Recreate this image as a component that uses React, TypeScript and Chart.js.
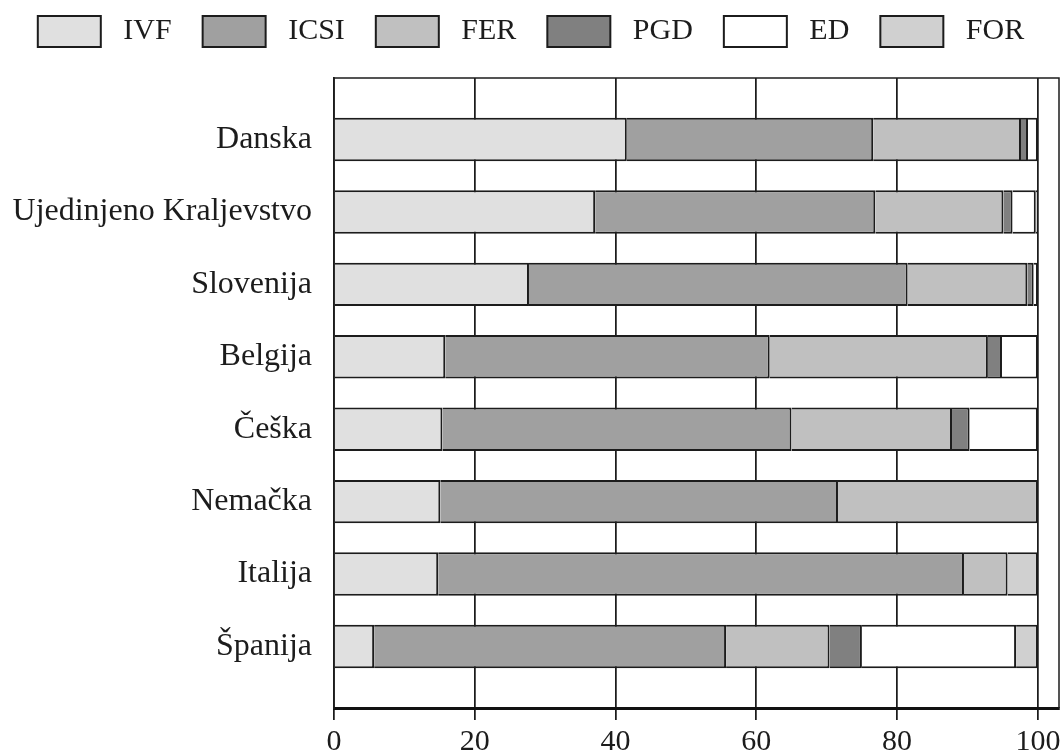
import React, { useEffect, useRef } from 'react';
import { Chart, registerables } from 'chart.js';

Chart.register(...registerables);

const categories = ['Danska', 'Ujedinjeno Kraljevstvo', 'Slovenija', 'Belgija', 'Češka', 'Nemačka', 'Italija', 'Španija'];
const ivf = [41.6, 37.1, 27.7, 15.8, 15.4, 15.1, 14.8, 5.7];
const icsi = [35.0, 39.8, 53.8, 46.1, 49.6, 56.5, 74.7, 50.0];
const fer = [21.0, 18.2, 17.0, 31.0, 22.8, 28.4, 6.2, 14.7];
const pgd = [1.0, 1.3, 0.9, 2.0, 2.5, 0, 0, 4.6];
const ed = [1.4, 3.3, 0.6, 5.1, 9.7, 0, 0, 21.9];
const forVals = [0, 0.3, 0, 0, 0, 0, 4.3, 3.1];

const seriesNames = ['IVF', 'ICSI', 'FER', 'PGD', 'ED', 'FOR'];
const seriesValues = [ivf, icsi, fer, pgd, ed, forVals];
const seriesColors = ['#e0e0e0', '#a0a0a0', '#c0c0c0', '#808080', '#ffffff', '#d0d0d0'];
const xTicks = [0, 20, 40, 60, 80, 100];

const FONT = 'Liberation Serif';
const INK = '#1c1c1c';

export default function App() {
  const ref = useRef<HTMLCanvasElement>(null);

  useEffect(() => {
    document.body.style.margin = '0';
    const frame = {
      id: 'frame',
      afterDatasetsDraw(chart: any) {
        const { ctx, chartArea: a } = chart;
        ctx.save();
        ctx.strokeStyle = INK;
        ctx.lineWidth = 1.5;
        ctx.beginPath();
        ctx.moveTo(a.left, a.top);
        ctx.lineTo(a.right, a.top);
        ctx.lineTo(a.right, a.bottom);
        ctx.stroke();
        ctx.restore();
      },
    };

    const chart = new Chart(ref.current as HTMLCanvasElement, {
      type: 'bar',
      data: {
        datasets: seriesNames.map((name, k) => ({
          label: name,
          data: seriesValues[k].map((v, i) => ({ x: v, y: i })),
          backgroundColor: seriesColors[k],
          borderColor: INK,
          borderWidth: 2,
          borderSkipped: 'start',
          barPercentage: 0.6,
          categoryPercentage: 1,
        })),
      },
      options: {
        indexAxis: 'y',
        animation: false,
        responsive: false,
        layout: { padding: 0 },
        scales: {
          x: {
            type: 'linear',
            stacked: true,
            offset: false,
            min: 0,
            max: 103,
            afterBuildTicks: (s: any) => {
              s.ticks = xTicks.map((v) => ({ value: v }));
            },
            afterFit: (s: any) => {
              s.height = 45;
              s.paddingRight = 3;
              s.paddingLeft = 0;
            },
            grid: {
              color: INK,
              lineWidth: 1.75,
              drawTicks: true,
              tickLength: 12,
              tickColor: INK,
              tickWidth: 1.75,
              offset: false,
            },
            border: { color: '#111', width: 3 },
            ticks: {
              font: { family: FONT, size: 30, lineHeight: 1 },
              color: INK,
              padding: 7,
              maxRotation: 0,
              autoSkip: false,
            },
          },
          y: {
            type: 'linear',
            stacked: true,
            reverse: true,
            offset: false,
            min: -0.85,
            max: 7.85,
            afterBuildTicks: (s: any) => {
              s.ticks = categories.map((_, i) => ({ value: i }));
            },
            afterFit: (s: any) => {
              s.width = 334;
            },
            grid: { display: false, drawTicks: false, tickLength: 0, offset: false },
            border: { color: INK, width: 1.75 },
            ticks: {
              font: { family: FONT, size: 32 },
              color: INK,
              padding: 22,
              autoSkip: false,
              callback: (v: any) => categories[v] ?? '',
            },
          },
        },
        plugins: {
          legend: {
            position: 'top',
            labels: {
              boxWidth: 63,
              boxHeight: 31,
              padding: 16,
              color: INK,
              font: { family: FONT, size: 30 },
              generateLabels: (c: any) => {
                const items = (Chart.defaults.plugins.legend.labels as any).generateLabels(c);
                return items.map((it: any, i: number) => ({
                  ...it,
                  text: ' ' + it.text + (i < items.length - 1 ? '  ' : ''),
                }));
              },
            },
          },
          title: {
            display: true,
            text: '',
            weight: 500,
            padding: 0,
            font: { size: 21, lineHeight: 1 },
          } as any,
          tooltip: { enabled: false },
        },
      } as any,
      plugins: [frame],
    });
    return () => chart.destroy();
  }, []);

  return <canvas ref={ref} width={1062} height={753} style={{ display: 'block' }} />;
}
